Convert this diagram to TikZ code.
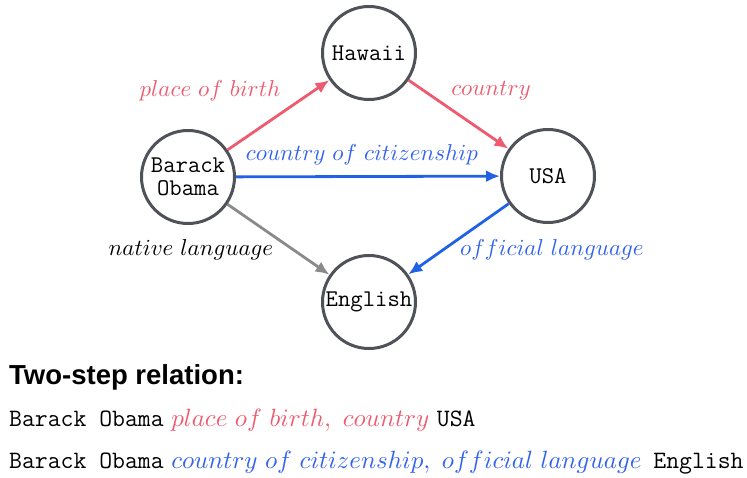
\documentclass[tikz,border=0pt]{standalone}
\usepackage{fontspec}
\newfontfamily\headfont{Liberation Sans}
\DeclareFontFamily{OML}{cmm}{\skewchar\font127 }
\DeclareFontShape{OML}{cmm}{m}{it}{<-> cmmi10}{}
\DeclareFontFamily{OT1}{cmr}{\hyphenchar\font45 }
\DeclareFontShape{OT1}{cmr}{m}{n}{<-> cmr10}{}
\usetikzlibrary{arrows.meta}
\definecolor{cred}{HTML}{EE5B70}
\definecolor{cblue}{HTML}{1F62E6}
\definecolor{lblue}{HTML}{3262EE}
\definecolor{cgray}{HTML}{8A8A8A}
\definecolor{cborder}{HTML}{505259}
\begin{document}
\begin{tikzpicture}[x=1pt,y=-1pt,
  ent/.style={circle,draw=cborder,line width=3pt,minimum size=93pt,inner sep=0pt,
    font=\fontsize{24}{25}\selectfont\ttfamily,align=center},
  rel/.style={line width=2.8pt,-{Latex[length=14pt,width=12pt]}},
  lab/.style={font=\fontsize{23}{28}\selectfont,inner sep=0pt},
  line/.style={font=\fontsize{25}{28}\selectfont,anchor=base west,inner sep=0pt}]
\useasboundingbox (0,0) rectangle (747,477);
\node[ent] (B) at (188,177) {Barack\\[-2pt]Obama};
\node[ent] (H) at (369,53) {Hawaii};
\node[ent] (U) at (548,176) {USA};
\node[ent] (E) at (369,302) {English};
\draw[rel,cred] (B) -- (H);
\draw[rel,cred] (H) -- (U);
\draw[rel,cblue] (B) -- (U);
\draw[rel,cblue] (U) -- (E);
\draw[rel,cgray] (B) -- (E);
\node[lab,text=cred] (l1) at (210,91) {$place\ of\ birth$};
\node[lab,text=cred] (l2) at (491,91) {$country$};
\node[lab,text=lblue] (l3) at (362,155) {$country\ of\ citizenship$};
\node[lab] (l4) at (191,250) {$native\ language$};
\node[lab,text=lblue] (l5) at (552,250) {$official\ language$};
\node[anchor=base west,inner sep=0pt,font=\fontsize{27.5}{30}\selectfont\headfont\bfseries] (t) at (9,384) {Two-step relation:};
\node[line] (r1) at (9,426) {{\ttfamily Barack Obama} \textcolor{cred}{$place\ of\ birth,\ country$} {\ttfamily USA}};
\node[line] (r2) at (9,468) {{\ttfamily Barack Obama} \textcolor{lblue}{$country\ of\ citizenship,\ official\ language$}\hspace{4pt} {\ttfamily English}};
\end{tikzpicture}
\end{document}
